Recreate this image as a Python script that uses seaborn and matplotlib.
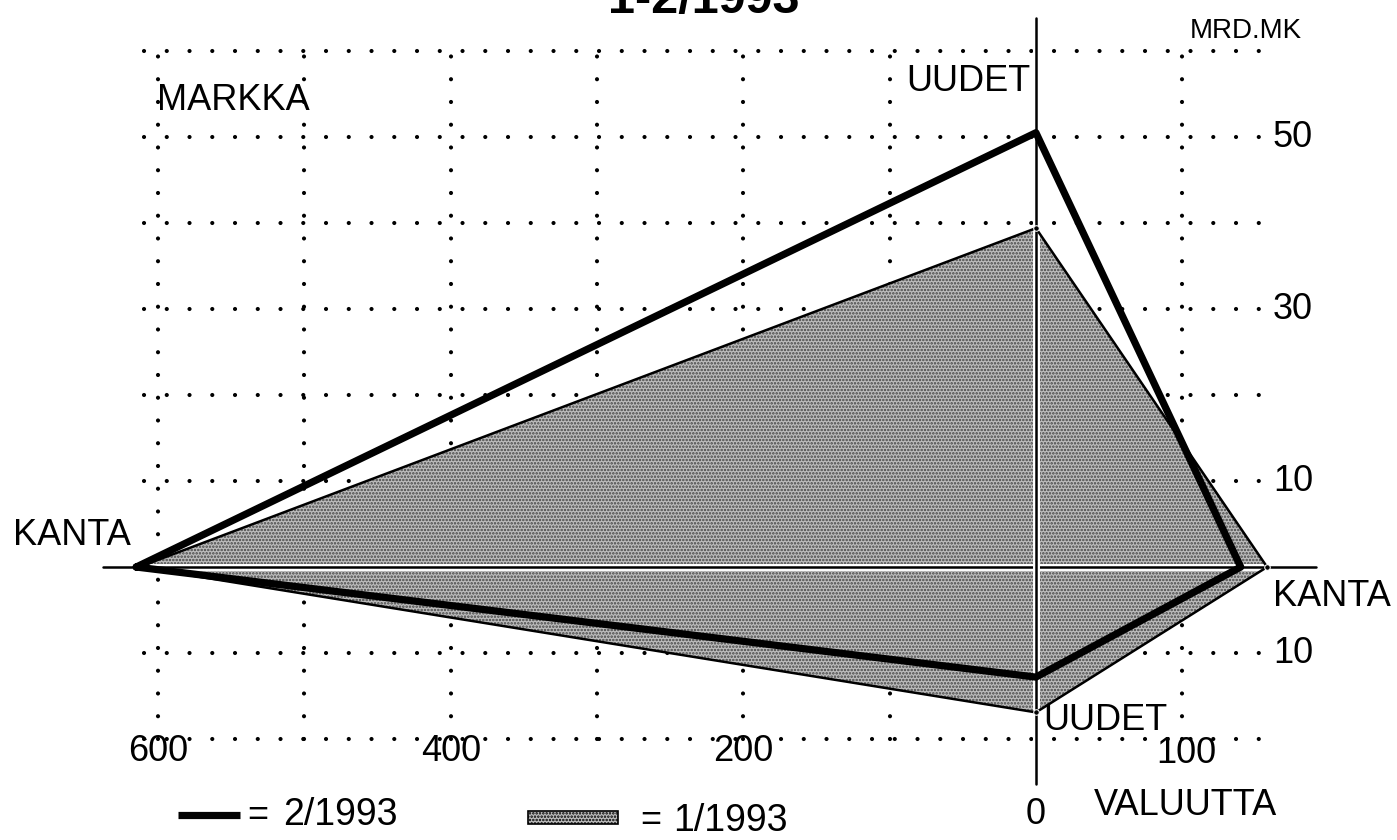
"""Markka/valuutta -luottokanta ja uudet luotot 1-2/1993 (nelikenttäkaavio)"""
import matplotlib
matplotlib.use("Agg")
import matplotlib.pyplot as plt
import matplotlib.patheffects as pe
import seaborn as sns

# arvot: [2/1993, 1/1993]
kuukaudet = ["2/1993", "1/1993"]
kanta_markka = [615, 613]        # mrd.mk, vasen akseli
uudet_markka = [50.5, 39.4]      # mrd.mk, ylös
kanta_valuutta = [140, 158]      # mrd.mk, oikea akseli
uudet_valuutta = [12.8, 16.9]    # mrd.mk, alas

vasen_tikit = [600, 400, 200]
oikea_tikit = [100]
pysty_tikit_ylos = [50, 30, 10]
pysty_tikit_alas = [10]

ASKEL_X = 100   # yksi ruutu vaakasuunnassa
ASKEL_Y = 10    # yksi ruutu pystysuunnassa

sns.set_theme(style="white")
plt.rcParams['font.family'] = ['Liberation Sans', 'DejaVu Sans']
plt.rcParams['text.color'] = 'black'
plt.rcParams['hatch.linewidth'] = 1.2

VARJO = '#bdbdbd'
PISTEET = '#444444'

fig = plt.figure(figsize=(13.97, 8.4), dpi=100)
ax = fig.add_axes([0, 0, 1, 1])
ax.set_xlim(-7.081, 2.468)
ax.set_ylim(-3.174, 6.593)
ax.axis('off')


def kulmat(i):
    xs = [-kanta_markka[i] / ASKEL_X, 0, kanta_valuutta[i] / ASKEL_X, 0]
    ys = [0, uudet_markka[i] / ASKEL_Y, 0, -uudet_valuutta[i] / ASKEL_Y]
    return xs + xs[:1], ys + ys[:1]


# pisteviivaruudukko
piste = dict(color='black', lw=3.0, linestyle=(0, (0.01, 5.45)),
             dash_capstyle='round', zorder=1)
for gx in [-6, -5, -4, -3, -2, -1, 1]:
    ax.plot([gx, gx], [-2, 6], **piste)
for gy in [6, 5, 4, 3, 2, 1, -1, -2]:
    ax.plot([-6.1, 1.58], [gy, gy], **piste)

# 1/1993 varjostettu alue
x1, y1 = kulmat(1)
ax.fill(x1, y1, facecolor=VARJO, edgecolor=PISTEET, lw=0, hatch='.....', zorder=2)

# akselit valkoisella reunuksella
halo = [pe.withStroke(linewidth=5, foreground='white')]
ax.plot([-6.38, 1.911], [0, 0], color='black', lw=1.8, zorder=3, path_effects=halo)
ax.plot([0, 0], [-2.52, 6.38], color='black', lw=1.8, zorder=3, path_effects=halo)

sns.lineplot(x=x1, y=y1, sort=False, estimator=None, color='black', lw=1.8,
             marker='o', markersize=4, ax=ax, zorder=4)

# 2/1993 paksu viiva
x2, y2 = kulmat(0)
sns.lineplot(x=x2, y=y2, sort=False, estimator=None, color='black', lw=5.2,
             ax=ax, zorder=5)

# tikkien tekstit
iso = 26
for v in vasen_tikit:
    ax.text(-v / ASKEL_X, -2.15, str(v), fontsize=iso, ha='center', va='center')
for v in oikea_tikit:
    ax.text(v / ASKEL_X + 0.03, -2.17, str(v), fontsize=iso, ha='center', va='center')
ax.text(0, -2.88, "0", fontsize=iso, ha='center', va='center')
for v in pysty_tikit_ylos:
    ax.text(1.62, v / ASKEL_Y, str(v), fontsize=iso, ha='left', va='center')
for v in pysty_tikit_alas:
    ax.text(1.62, -v / ASKEL_Y, str(v), fontsize=iso, ha='left', va='center')

# akselien nimet
ax.text(1.05, 6.23, "MRD.MK", fontsize=20, ha='left', va='center')
ax.text(-0.04, 5.65, "UUDET", fontsize=iso, ha='right', va='center')
ax.text(-6.01, 5.42, "MARKKA", fontsize=iso, ha='left', va='center')
ax.text(-6.99, 0.37, "KANTA", fontsize=iso, ha='left', va='center')
ax.text(1.62, -0.34, "KANTA", fontsize=iso, ha='left', va='center')
ax.text(0.05, -1.78, "UUDET", fontsize=iso, ha='left', va='center')
ax.text(1.02, -2.77, "VALUUTTA", fontsize=iso, ha='center', va='center')

# otsikko (leikkautuu yläreunasta kuten alkuperäisessä)
ax.text(-2.27, 6.44, "1-2/1993", fontsize=35, fontweight='bold',
        ha='center', va='baseline')

# selite
ax.plot([-5.865, -5.441], [-2.884, -2.884], color='black', lw=5.2,
        solid_capstyle='butt')
ax.text(-5.318, -2.884, "=", fontsize=iso, ha='center', va='center')
ax.text(-5.147, -2.884, kuukaudet[0], fontsize=27, ha='left', va='center')
ax.fill([-3.472, -2.857, -2.857, -3.472], [-2.837, -2.837, -2.988, -2.988],
        facecolor=VARJO, edgecolor='black', lw=1.2, hatch='.....')
ax.text(-2.632, -2.953, "=", fontsize=iso, ha='center', va='center')
ax.text(-2.481, -2.953, kuukaudet[1], fontsize=27, ha='left', va='center')

fig.savefig("out.png", dpi=100)
plt.close(fig)
